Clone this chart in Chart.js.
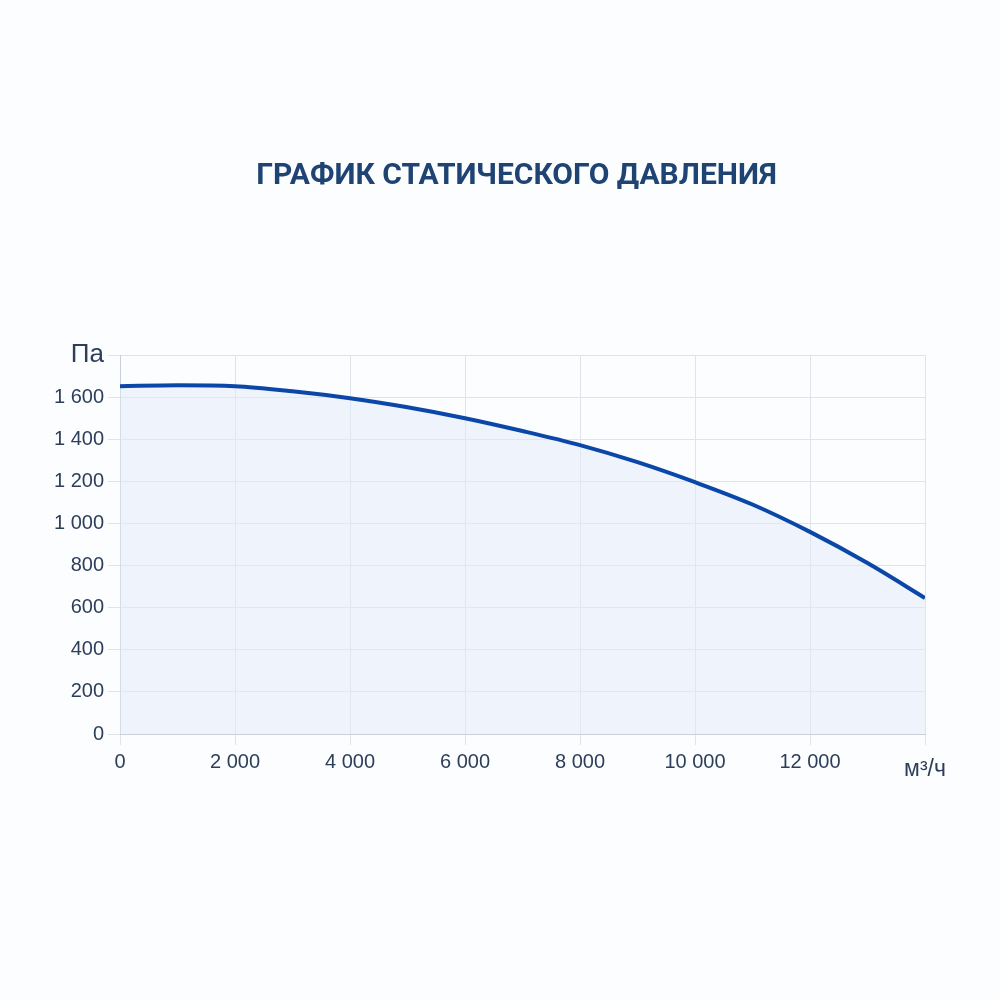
<!DOCTYPE html>
<html>
<head>
<meta charset="utf-8">
<script src="https://cdn.jsdelivr.net/npm/chart.js@4/dist/chart.umd.min.js"></script>
<style>
  html, body { margin: 0; padding: 0; background: #fcfdfe; }
  #wrap { position: relative; width: 1000px; height: 1000px; }
  h1 {
    position: absolute; left: 0; top: 156px; width: 1033px; margin: 0;
    text-align: center; font: bold 30px Roboto, sans-serif; color: #1f4474;
  }
</style>
</head>
<body>
<div id="wrap">
  <h1>ГРАФИК СТАТИЧЕСКОГО ДАВЛЕНИЯ</h1>
  <canvas id="chart"></canvas>
</div>
<script>
// Air flow, m3/h
const flow = [0, 1000, 2000, 3000, 4000, 5000, 6000, 7000, 8000, 9000, 10000, 11000, 12000, 13000, 14000];
// Static pressure, Pa
const pressure = [1652, 1656, 1652, 1628, 1595, 1552, 1500, 1439, 1372, 1291, 1196, 1090, 960, 812, 646];
const xTicks = [0, 2000, 4000, 6000, 8000, 10000, 12000, 14000];
const yTicks = [0, 200, 400, 600, 800, 1000, 1200, 1400, 1600, 1800];
const xUnit = 'м³/ч';
const yUnit = 'Па';

function fmt(v) {
  return String(v).replace(/\B(?=(\d{3})+(?!\d))/g, ' ');
}

const textColor = '#2d3e5b';
const gridColor = '#dfe3ea';
const tickFont = { family: 'Liberation Sans', size: 20 };

new Chart(document.getElementById('chart').getContext('2d'), {
  type: 'line',
  data: {
    datasets: [{
      data: flow.map((x, i) => ({ x: x, y: pressure[i] })),
      borderColor: '#0b47a8',
      backgroundColor: 'rgba(226, 234, 250, 0.5)',
      borderWidth: 4,
      pointRadius: 0,
      cubicInterpolationMode: 'monotone',
      fill: 'origin'
    }]
  },
  options: {
    responsive: true,
    maintainAspectRatio: false,
    animation: false,
    layout: { padding: { top: 355, left: 40, right: 75, bottom: 206 } },
    plugins: {
      legend: { display: false },
      tooltip: { enabled: false }
    },
    scales: {
      x: {
        type: 'linear',
        min: 0,
        max: 14000,
        afterBuildTicks: s => { s.ticks = xTicks.map(v => ({ value: v })); },
        afterFit: s => { s.height = 60; },
        grid: { color: gridColor, tickLength: 11 },
        border: { color: '#c9cfd8' },
        ticks: {
          color: textColor,
          padding: 5,
          maxRotation: 0,
          // unit label sits a little lower than the numbers
          font: ctx => ctx.tick && ctx.tick.value === 14000
            ? { family: 'Liberation Sans', size: 23, lineHeight: 1.7 } : tickFont,
          callback: v => v === 14000 ? xUnit : fmt(v)
        }
      },
      y: {
        min: 0,
        max: 1800,
        afterBuildTicks: s => { s.ticks = yTicks.map(v => ({ value: v })); },
        afterFit: s => { s.width = 80; },
        grid: { color: gridColor, tickLength: 12 },
        border: { color: '#c9cfd8' },
        ticks: {
          color: textColor,
          padding: 4,
          font: ctx => ctx.tick && ctx.tick.value === 1800
            ? { family: 'Liberation Sans', size: 26 } : tickFont,
          callback: v => v === 1800 ? yUnit : fmt(v)
        }
      }
    }
  }
});
</script>
</body>
</html>
